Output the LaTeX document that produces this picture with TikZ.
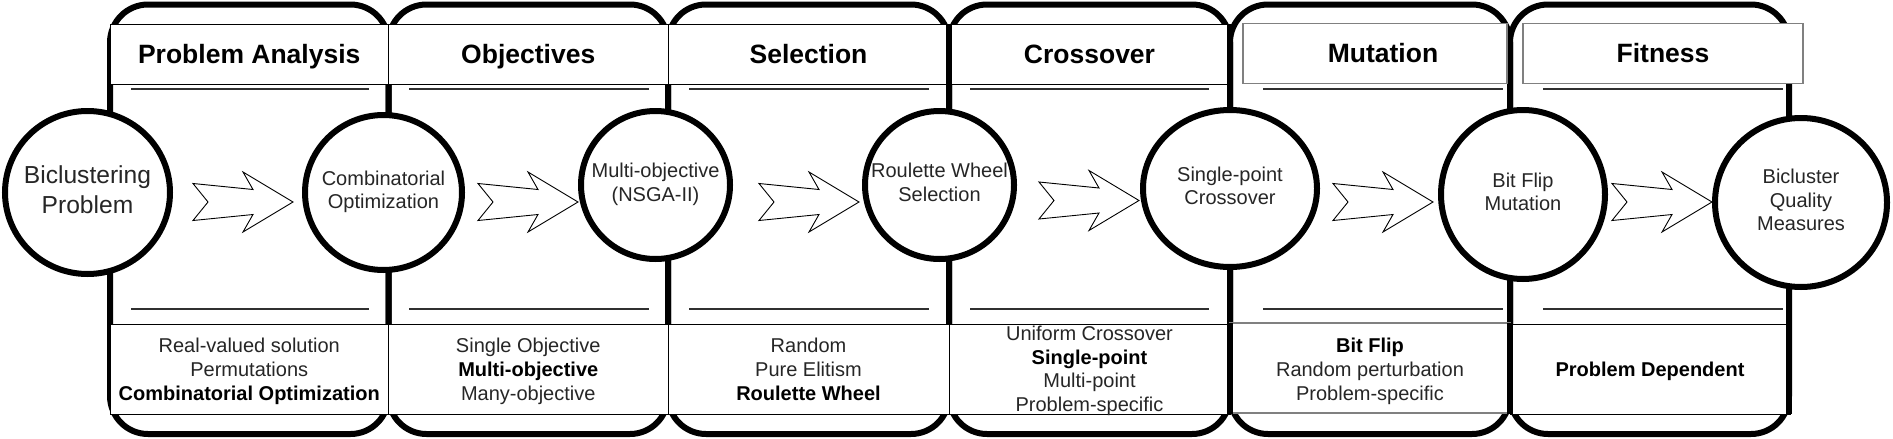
\documentclass[tikz,border=0pt]{standalone}
\usepackage{fontspec}
\setmainfont{Liberation Sans}
\usetikzlibrary{shapes.geometric}
\definecolor{txt}{HTML}{262626}
\definecolor{gline}{HTML}{808080}
\definecolor{sepc}{HTML}{303030}
\newcommand{\mybold}[1]{\textcolor{black}{\bfseries #1}}
\begin{document}
\begin{tikzpicture}[x=1pt,y=-1pt,
  panel/.style={draw=black, line width=6pt, rounded corners=38pt},
  edgeline/.style={draw=black, line width=6pt},
  boxb/.style={rectangle, draw=black, line width=1pt, fill=white, inner sep=0pt, minimum height=60pt},
  boxg/.style={boxb, draw=gline, line width=1.4pt},
  hdr/.style={font=\fontsize{26.5}{32}\selectfont\bfseries, text height=19.3pt, text depth=0.7pt},
  lowbox/.style={rectangle, draw=black, line width=1pt, fill=white, inner sep=0pt, minimum height=90pt},
  lowboxg/.style={lowbox, draw=gline, line width=1.4pt},
  sepline/.style={draw=sepc, line width=1.8pt},
  circ/.style={ellipse, draw=black, line width=6pt, fill=white, inner sep=-20pt, align=center, text=txt, font=\fontsize{20}{23.5}\selectfont},
  btxt/.style={align=center, text=txt, inner sep=0pt, font=\fontsize{20}{23.7}\selectfont},
  blockarrow/.style={draw=black, line width=0.9pt, fill=white, line join=miter},
]
\fill[white] (0,0) rectangle (1893,439);
\useasboundingbox (0,0) rectangle (1893,439);

% panels
\draw[panel] (110,4.5) rectangle (388.5,434);
\draw[panel] (388.5,4.5) rectangle (668,434);
\draw[panel] (668,4.5) rectangle (949,434);
\draw[panel] (949,4.5) rectangle (1230,434);
\draw[panel] (1230,4.5) rectangle (1510,434);
\draw[panel] (1510,4.5) rectangle (1789,434);

% header boxes
\node[boxb, hdr, minimum width=278.5pt] (h1) at (249.25,54) {Problem Analysis};
\node[boxb, hdr, minimum width=279.5pt] (h2) at (528.25,54) {Objectives};
\node[boxb, hdr, minimum width=281pt] (h3) at (808.5,54) {Selection};
\node[boxb, hdr, minimum width=281pt] (h4) at (1089.5,54) {Crossover};
\node[boxg, hdr, minimum width=264pt] (h5) at (1375,53.3) {\hspace*{16pt}Mutation};
\node[boxg, hdr, minimum width=280pt] (h6) at (1663,53.5) {Fitness};

% bottom boxes
\node[lowbox, minimum width=278.5pt] (b1) at (249.25,369) {};
\node[lowbox, minimum width=279.5pt] (b2) at (528.25,369) {};
\node[lowbox, minimum width=281pt] (b3) at (808.5,369) {};
\node[lowbox, minimum width=281pt] (b4) at (1089.5,369) {};
\node[lowboxg, minimum width=280pt] (b5) at (1370,368) {};
\node[lowbox, minimum width=280pt] (b6) at (1650,369) {};

% panel edges that stay visible over the boxes
\draw[edgeline] (949,24) -- (949,84);
\draw[edgeline] (1230,24) -- (1230,84);
\draw[edgeline] (1230,323) -- (1230,414);
\draw[edgeline] (1510,323) -- (1510,414);
\draw[edgeline] (1789,324) -- (1789,414);

% separators
\foreach \a/\b in {131/369, 409/649, 689/929, 970/1209, 1263/1503, 1543/1783}{
  \draw[sepline] (\a,89) -- (\b,89);
  \draw[sepline] (\a,309) -- (\b,309);
}

% bottom texts
\node[btxt] (t1) at (249.25,371.6) {\strut Real-valued solution\\\strut Permutations\\\strut\mybold{Combinatorial Optimization}};
\node[btxt] (t2) at (528.25,371.6) {\strut Single Objective\\\strut\mybold{Multi-objective}\\\strut Many-objective};
\node[btxt] (t3) at (808.5,371.6) {\strut Random\\\strut Pure Elitism\\\strut\mybold{Roulette Wheel}};
\node[btxt] (t4) at (1089.5,371.4) {\strut Uniform Crossover\\\strut\mybold{Single-point}\\\strut Multi-point\\\strut Problem-specific};
\node[btxt] (t5) at (1370,371.6) {\strut\mybold{Bit Flip}\\\strut Random perturbation\\\strut Problem-specific};
\node[btxt] (t6) at (1650,371.9) {\strut\mybold{Problem Dependent}};

% arrow tips
\coordinate (a1) at (293,202);
\coordinate (a2) at (578,202);
\coordinate (a3) at (859,202);
\coordinate (a4) at (1139,200.5);
\coordinate (a5) at (1433,202);
\coordinate (a6) at (1712,202);
\foreach \t in {a1,a2,a3,a4,a5,a6}{
  \draw[blockarrow, shift={(\t)}] (0,0) -- (-50,-30) -- (-40,-12.5) -- (-100,-18.5) -- (-85,0) -- (-100,18.5) -- (-40,12.5) -- (-50,30) -- cycle;
}

% circles
\node[circ, minimum width=165pt, minimum height=163pt, font=\fontsize{24.6}{30}\selectfont] (c1) at (87.5,192.5) {\strut Biclustering\\\strut Problem};
\node[circ, minimum width=157pt, minimum height=155pt] (c2) at (383.5,192.5) {\strut Combinatorial\\\strut Optimization};
\node[circ, minimum width=149pt, minimum height=148pt] (c3) at (655.5,185) {\strut Multi-objective\\\strut (NSGA-II)};
\node[circ, minimum width=149pt, minimum height=148pt] (c4) at (939.5,185) {\strut Roulette Wheel\\\strut Selection};
\node[circ, minimum width=174pt, minimum height=157pt] (c5) at (1230,188.5) {\strut Single-point\\\strut Crossover};
\node[circ, minimum width=164pt, minimum height=169pt] (c6) at (1523,194.5) {\strut Bit Flip\\\strut Mutation};
\node[circ, minimum width=172pt, minimum height=169pt] (c7) at (1801,202.5) {\strut Bicluster\\\strut Quality\\\strut Measures};
\end{tikzpicture}
\end{document}
